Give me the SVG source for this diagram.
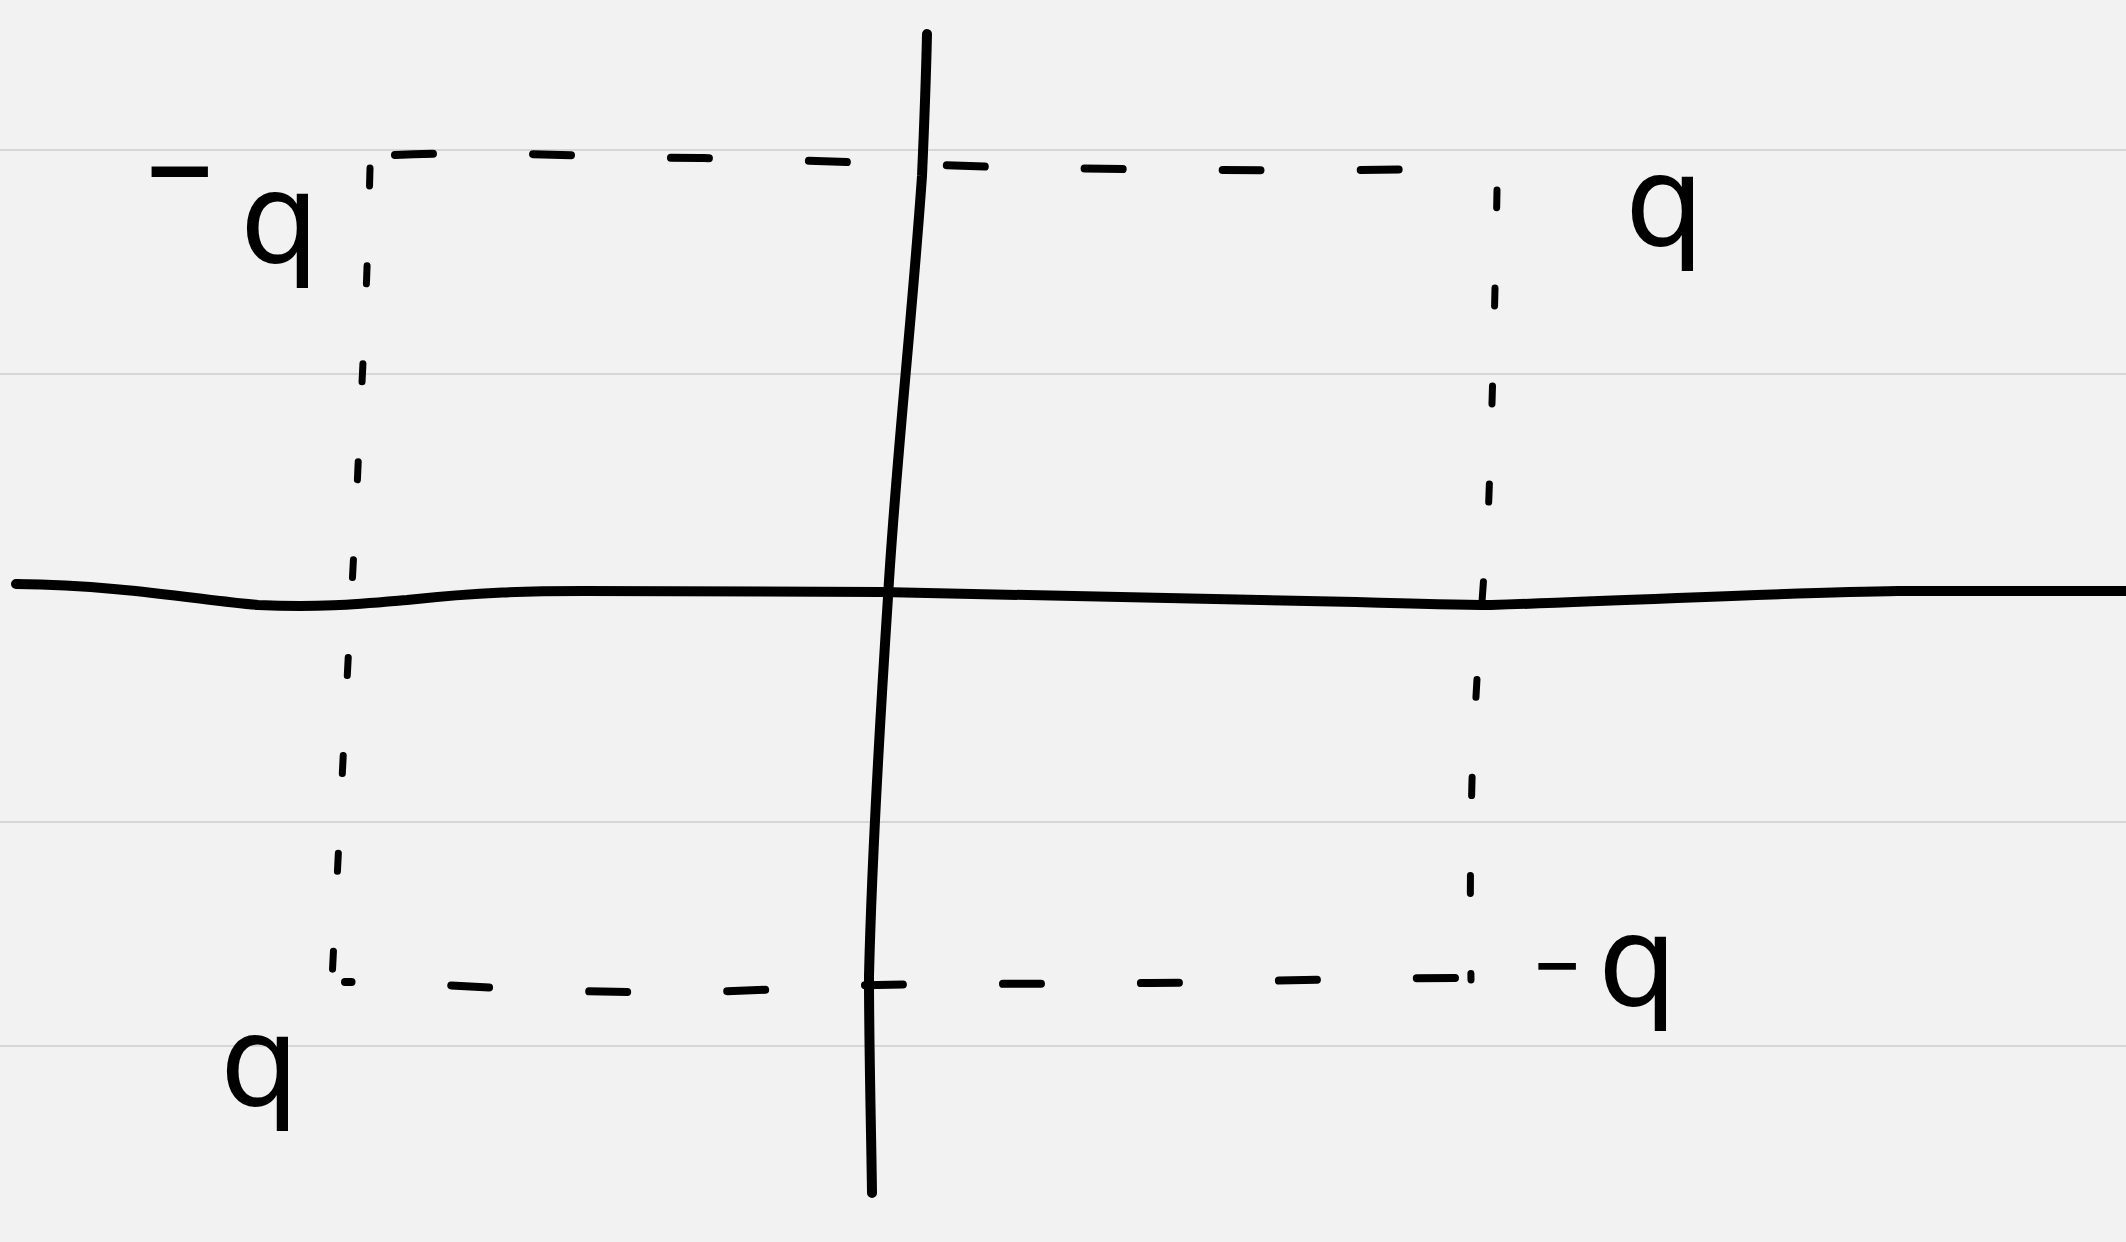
<svg xmlns="http://www.w3.org/2000/svg" width="2126" height="1242" viewBox="0 0 2126 1242">
<style>
.rule{stroke:#d6d6d6;stroke-width:2;fill:none}
.axis{stroke:#000;stroke-width:10;fill:none;stroke-linecap:round;stroke-linejoin:round}
.dash{stroke:#000;stroke-width:8;fill:none;stroke-linecap:round;stroke-dasharray:38 100}
.vdash{stroke:#000;stroke-width:7;fill:none;stroke-linecap:round;stroke-dasharray:18 80}
.lbl{font-family:"DejaVu Sans","Liberation Sans",sans-serif;font-size:125px;fill:#000}
.mn{font-size:60px;font-weight:bold}
.mn2{font-size:90px;font-weight:bold}
</style>
<rect width="2126" height="1242" fill="#f2f2f2"/>
<g id="rules">
<line class="rule" x1="0" y1="150" x2="2126" y2="150"/>
<line class="rule" x1="0" y1="374" x2="2126" y2="374"/>
<line class="rule" x1="0" y1="822" x2="2126" y2="822"/>
<line class="rule" x1="0" y1="1046" x2="2126" y2="1046"/>
</g>
<g id="connectors">
<path id="x-axis" class="axis" d="M16,584 C120,585 200,600 258,605 C320,608 360,604 407,600 C480,592 530,591 583,591 C700,592 800,591 881,592 C1100,596 1250,600 1356,602 C1420,604 1460,605 1491,605 C1650,600 1800,592 1898,591 L2126,591"/>
<path id="y-axis" class="axis" d="M927,34 C926,80 924,130 922,176 C912,320 896,460 888,597 C880,720 872,850 869,976 C869,1050 871,1120 872,1193"/>
<path id="top-edge" class="dash" d="M395,155 C500,150 600,158 700,158 C800,160 900,164 1000,167 C1150,170 1300,172 1491,168"/>
<path id="right-edge" class="vdash" d="M1497,190 C1495,300 1492,420 1488,520 C1482,600 1476,680 1472,780 C1470,860 1470,920 1471,980"/>
<path id="bottom-edge" class="dash" d="M1455,978 C1350,978 1250,982 1150,983 C1000,985 900,982 800,988 C700,994 600,993 500,988 C440,985 400,982 345,982"/>
<path id="left-edge" class="vdash" d="M370,168 C368,250 365,330 360,420 C356,520 350,620 345,720 C340,820 336,900 332,980"/>
</g>
<g id="label-tl"><text class="lbl" x="142" y="200"><tspan class="mn2">−</tspan><tspan x="240" y="262">q</tspan></text></g>
<g id="label-tr"><text class="lbl" x="1625" y="245">q</text></g>
<g id="label-bl"><text class="lbl" x="220" y="1105">q</text></g>
<g id="label-br"><text class="lbl" x="1532" y="985"><tspan class="mn">−</tspan><tspan x="1598" y="1005">q</tspan></text></g>
</svg>
